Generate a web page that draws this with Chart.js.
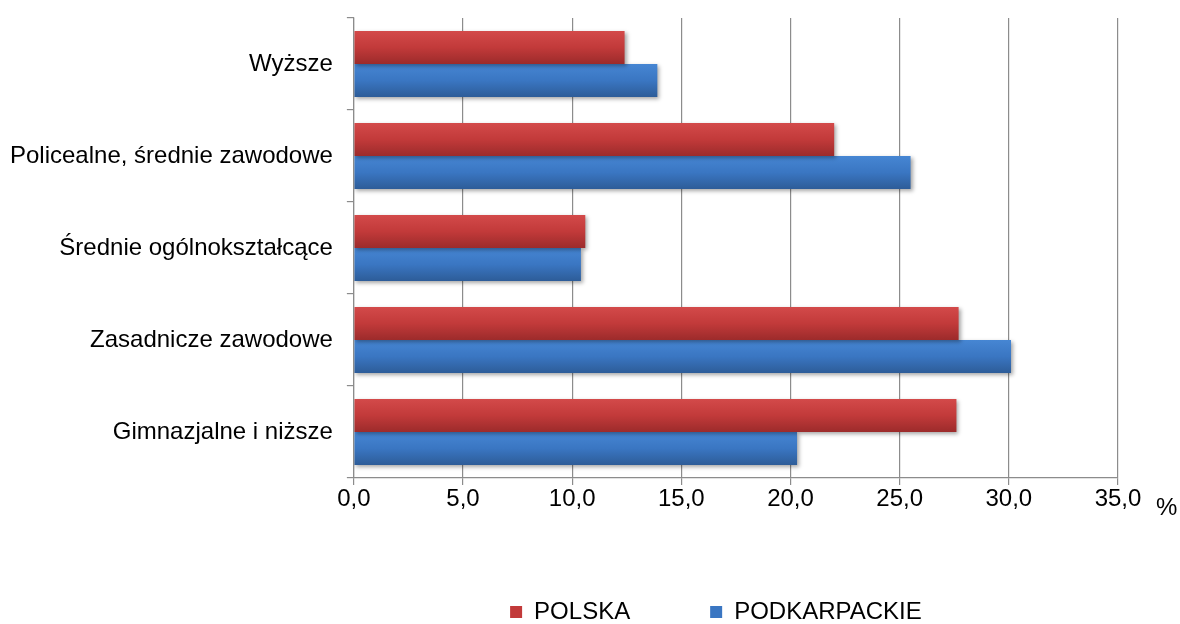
<!DOCTYPE html>
<html>
<head>
<meta charset="utf-8">
<script src="https://cdn.jsdelivr.net/npm/chart.js@4"></script>
<style>
  html, body { margin: 0; padding: 0; background: #fff; }
  #wrap { width: 1180px; height: 624px; }
</style>
</head>
<body>
<div id="wrap"><canvas id="myChart" width="1180" height="624"></canvas></div>
<script>
const categories = ['Wyższe', 'Policealne, średnie zawodowe', 'Średnie ogólnokształcące', 'Zasadnicze zawodowe', 'Gimnazjalne i niższe'];
const polska = [12.4, 22.0, 10.6, 27.7, 27.6];
const podkarpackie = [13.9, 25.5, 10.4, 30.1, 20.3];
const seriesNames = ['POLSKA', 'PODKARPACKIE'];

const FONT = 'Liberation Sans, Arial, sans-serif';

// gradient fills + soft shadow like the office-style bars
const barStyle = {
  id: 'barStyle',
  beforeDatasetDraw(chart, args) {
    const ctx = chart.ctx;
    const stops = args.index === 0
      ? ['#d34a4a', '#c23a3a', '#9c2b2b']
      : ['#4686d3', '#3a76c2', '#2d5c98'];
    args.meta.data.forEach(el => {
      const top = el.y - el.height / 2;
      const g = ctx.createLinearGradient(0, top, 0, top + el.height);
      g.addColorStop(0, stops[0]);
      g.addColorStop(0.5, stops[1]);
      g.addColorStop(1, stops[2]);
      el.options = Object.assign({}, el.options, { backgroundColor: g });
    });
    ctx.save();
    ctx.shadowColor = 'rgba(0,0,0,0.35)';
    ctx.shadowBlur = 4;
    ctx.shadowOffsetX = 2;
    ctx.shadowOffsetY = 2;
  },
  afterDatasetDraw(chart) {
    chart.ctx.restore();
  },
  afterDraw(chart) {
    const x = chart.scales.x;
    const ctx = chart.ctx;
    ctx.save();
    ctx.font = '24px ' + FONT;
    ctx.fillStyle = '#000';
    ctx.textBaseline = 'middle';
    ctx.fillText('%', x.right + 38, x.top + 30);
    ctx.restore();
  }
};

const canvas = document.getElementById('myChart');
const ctx = canvas.getContext('2d');

new Chart(ctx, {
  type: 'bar',
  data: {
    labels: categories,
    datasets: [
      { label: seriesNames[0], data: polska, backgroundColor: '#c23a3a' },
      { label: seriesNames[1], data: podkarpackie, backgroundColor: '#3a76c2' }
    ]
  },
  options: {
    indexAxis: 'y',
    responsive: false,
    animation: false,
    categoryPercentage: 0.72,
    barPercentage: 1,
    layout: { padding: { left: -4, right: 62, top: 18, bottom: -10 } },
    scales: {
      x: {
        min: 0,
        max: 35,
        ticks: {
          stepSize: 5,
          color: '#000',
          padding: 0,
          font: { family: FONT, size: 24 },
          callback: v => v.toFixed(1).replace('.', ',')
        },
        grid: { color: '#8c8c8c', tickLength: 7, lineWidth: 1.2 },
        border: { color: '#8c8c8c', width: 1.2 },
        afterFit(scale) { scale.height = 42; }
      },
      y: {
        ticks: {
          color: '#000',
          padding: 14,
          font: { family: FONT, size: 24 }
        },
        grid: { drawOnChartArea: false, tickLength: 7, color: '#8c8c8c', lineWidth: 1.2 },
        border: { color: '#8c8c8c', width: 1.2 },
        afterFit(scale) { scale.paddingTop = 0; scale.paddingBottom = 0; }
      }
    },
    plugins: {
      legend: {
        position: 'bottom',
        fullSize: false,
        labels: {
          color: '#000',
          boxWidth: 12,
          boxHeight: 12,
          padding: 80,
          font: { family: FONT, size: 24 },
          generateLabels(chart) {
            const items = Chart.defaults.plugins.legend.labels.generateLabels(chart);
            // trailing space nudges the centred legend left, as in the original
            items[items.length - 1].text += '      ';
            return items;
          }
        }
      },
      tooltip: { enabled: false }
    }
  },
  plugins: [barStyle]
});
</script>
</body>
</html>
